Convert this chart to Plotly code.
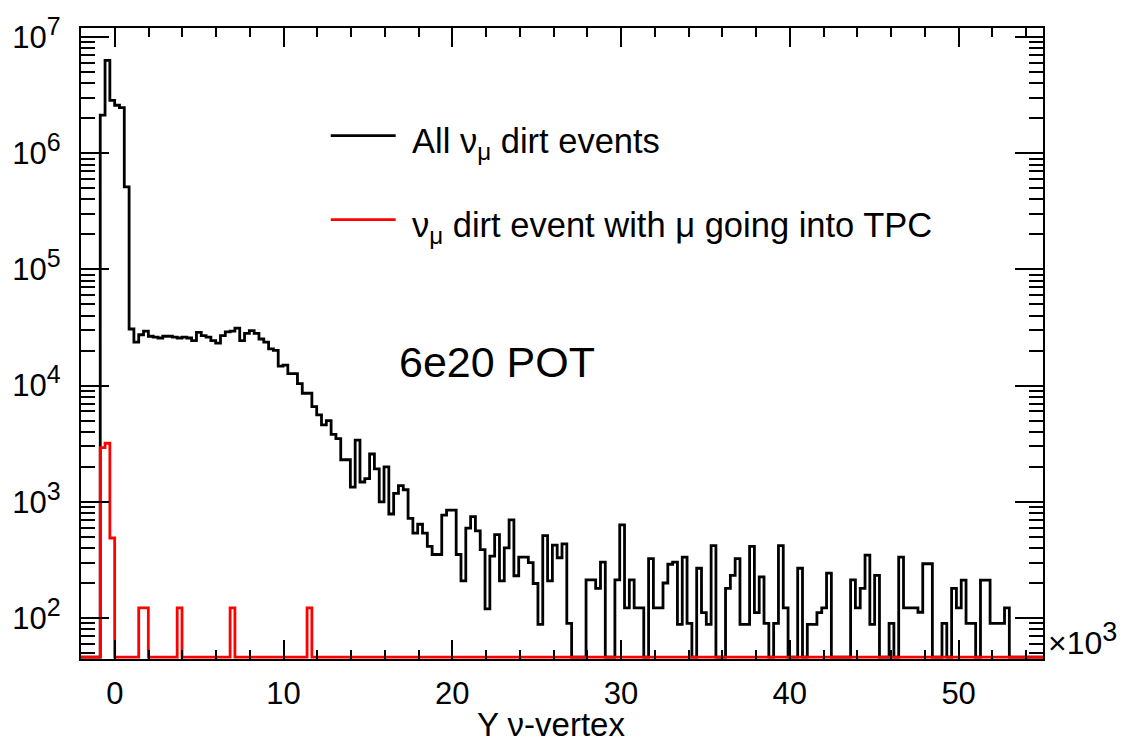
import numpy as np
import plotly.graph_objects as go

# ---------------- data ----------------
X_MIN, X_MAX, N_BINS = -2.0, 55.0, 200   # Y nu-vertex in units of 10^3

# counts per bin (bin 0 .. 199) for all nu_mu dirt events
black_counts = [
    0, 0, 0, 0, 2.13e6, 6.3e6, 2.85e6, 2.59e6, 2.47e6, 5.13e5,
    30700, 23700, 27400, 29400, 26600, 26100, 25700, 26600, 26600, 26100,
    25700, 26100, 25700, 24400, 28700, 26900, 26100, 24400, 23200, 26900,
    29000, 29400, 31300, 24400, 28200, 29700, 28200, 25200, 23700, 20700,
    20100, 14700, 15000, 12700, 12700, 10400, 8600, 8600, 6600, 5600,
    4600, 5000, 3800, 3500, 2300, 2300, 1340, 3400, 1480, 1580,
    2580, 1920, 1000, 2000, 785, 1180, 1380, 1270, 720, 538,
    641, 538, 414, 352, 352, 768, 849, 849, 352, 209,
    593, 745, 563, 388, 120, 341, 521, 209, 401, 698,
    231, 334, 334, 299, 198, 88, 511, 209, 423, 330,
    434, 90, 0, 0, 0, 213, 213, 180, 303, 0,
    0, 213, 632, 122, 213, 122, 122, 0, 324, 122,
    122, 200, 290, 303, 88, 334, 90, 0, 268, 111,
    88, 420, 0, 0, 180, 233, 324, 88, 88, 414,
    111, 226, 90, 0, 90, 420, 122, 0, 0, 268,
    0, 88, 88, 111, 122, 243, 0, 0, 0, 0,
    213, 122, 180, 348, 88, 233, 0, 0, 90, 0,
    334, 122, 122, 122, 112, 293, 293, 0, 0, 90,
    0, 180, 122, 212, 90, 90, 0, 212, 212, 90,
    90, 90, 122, 0, 0, 0, 0, 0, 0, 0,
]

# nu_mu dirt events with the muon going into the TPC (non-zero bins)
red_bins = [4, 5, 6, 12, 13, 20, 31, 47]
red_values = [2930, 3190, 488, 122, 122, 122, 122, 122]

x_tick_vals = [0, 10, 20, 30, 40, 50]
x_tick_text = ["0", "10", "20", "30", "40", "50"]
y_tick_vals = [1e2, 1e3, 1e4, 1e5, 1e6, 1e7]
y_exponents = ["2", "3", "4", "5", "6", "7"]

legend_labels = ["All \u03bd<sub>\u03bc</sub> dirt events",
                 "\u03bd<sub>\u03bc</sub> dirt event with \u03bc going into TPC"]
pot_label = "6e20 POT"
x_title = "Y \u03bd-vertex"

# ---------------- geometry ----------------
W, H = 1126, 744
L, R, T, B = 80, 1043, 20, 659          # plot frame in pixels
Y_LOG_MIN, Y_LOG_MAX = 1.647, 7.078
FONT = "Liberation Sans, Arial, Helvetica, sans-serif"

def px(x):
    return (x - L) / (R - L)

def py(y):
    return (B - y) / (B - T)

y_tick_text = ["10<sup><span style='font-size:25px'>%s</span></sup>" % e for e in y_exponents]

edges = np.linspace(X_MIN, X_MAX, N_BINS + 1)
floor_val = 10 ** (Y_LOG_MIN + 2.0 / 117.7)   # empty bins drawn on frame bottom

red_counts = np.zeros(N_BINS)
for b, v in zip(red_bins, red_values):
    red_counts[b] = v

def step_xy(counts):
    c = np.array(counts, dtype=float)
    c = np.where(c <= 0, floor_val, c)
    xs = np.append(edges[:-1], edges[-1])
    ys = np.append(c, c[-1])
    return xs, ys

fig = go.Figure()
bx, by = step_xy(black_counts)
fig.add_trace(go.Scatter(x=bx, y=by, mode="lines", line=dict(color="black", width=2.8, shape="hv"),
                         showlegend=False, hoverinfo="skip"))
rx, ry = step_xy(red_counts)
fig.add_trace(go.Scatter(x=rx, y=ry, mode="lines", line=dict(color="#ff0000", width=2.8, shape="hv"),
                         showlegend=False, hoverinfo="skip"))

x_minor = [v for v in range(-2, 55, 2) if v % 10 != 0]
y_minor = [k * 10 ** d for d in range(1, 7) for k in range(2, 10)
           if Y_LOG_MIN < np.log10(k * 10 ** d) < Y_LOG_MAX]

fig.update_layout(
    width=W, height=H,
    margin=dict(l=L, r=W - R, t=T, b=H - B, pad=0),
    paper_bgcolor="white", plot_bgcolor="white",
    showlegend=False,
    font=dict(family=FONT, color="black"),
    xaxis=dict(
        range=[X_MIN, X_MAX], showgrid=False, zeroline=False,
        showline=True, linecolor="black", linewidth=2.4, mirror="ticks",
        ticks="inside", ticklen=19, tickwidth=1.6, tickcolor="black",
        tickmode="array", tickvals=x_tick_vals, ticktext=x_tick_text,
        tickfont=dict(size=31, family=FONT), ticklabelstandoff=6,
        minor=dict(tickmode="array", tickvals=x_minor, ticks="inside",
                   ticklen=9, tickwidth=1.6, tickcolor="black", showgrid=False),
    ),
    yaxis=dict(
        type="log", range=[Y_LOG_MIN, Y_LOG_MAX], showgrid=False, zeroline=False,
        showline=True, linecolor="black", linewidth=2.4, mirror="ticks",
        ticks="inside", ticklen=28, tickwidth=1.6, tickcolor="black",
        tickmode="array", tickvals=y_tick_vals, ticktext=y_tick_text,
        tickfont=dict(size=31, family=FONT), ticklabelstandoff=12,
        minor=dict(tickmode="array", tickvals=y_minor, ticks="inside",
                   ticklen=14, tickwidth=1.6, tickcolor="black", showgrid=False),
    ),
)

# legend drawn as lines + text
legend_rows = [(129, "black"), (214, "#ff0000")]
for (yy, col), lab in zip(legend_rows, legend_labels):
    fig.add_shape(type="line", xref="paper", yref="paper",
                  x0=px(330), x1=px(395), y0=py(yy), y1=py(yy),
                  line=dict(color=col, width=2.8))
    fig.add_annotation(x=px(409), y=py(yy + 8), xref="paper", yref="paper",
                       text=lab, showarrow=False, xanchor="left", yanchor="middle",
                       font=dict(size=34.5, family=FONT, color="black"))

fig.add_annotation(x=px(396), y=py(358), xref="paper", yref="paper", text=pot_label,
                   showarrow=False, xanchor="left", yanchor="middle",
                   font=dict(size=43, family=FONT, color="black"))

fig.add_annotation(x=px(1046), y=py(663), xref="paper", yref="paper",
                   text="\u00d710<sup><span style='font-size:27px'>3</span></sup>",
                   showarrow=False, xanchor="left", yanchor="bottom",
                   font=dict(size=32, family=FONT, color="black"))

fig.add_annotation(x=px(550), y=py(725), xref="paper", yref="paper", text=x_title,
                   showarrow=False, xanchor="center", yanchor="middle",
                   font=dict(size=33, family=FONT, color="black"))

fig.write_html("out.html")
